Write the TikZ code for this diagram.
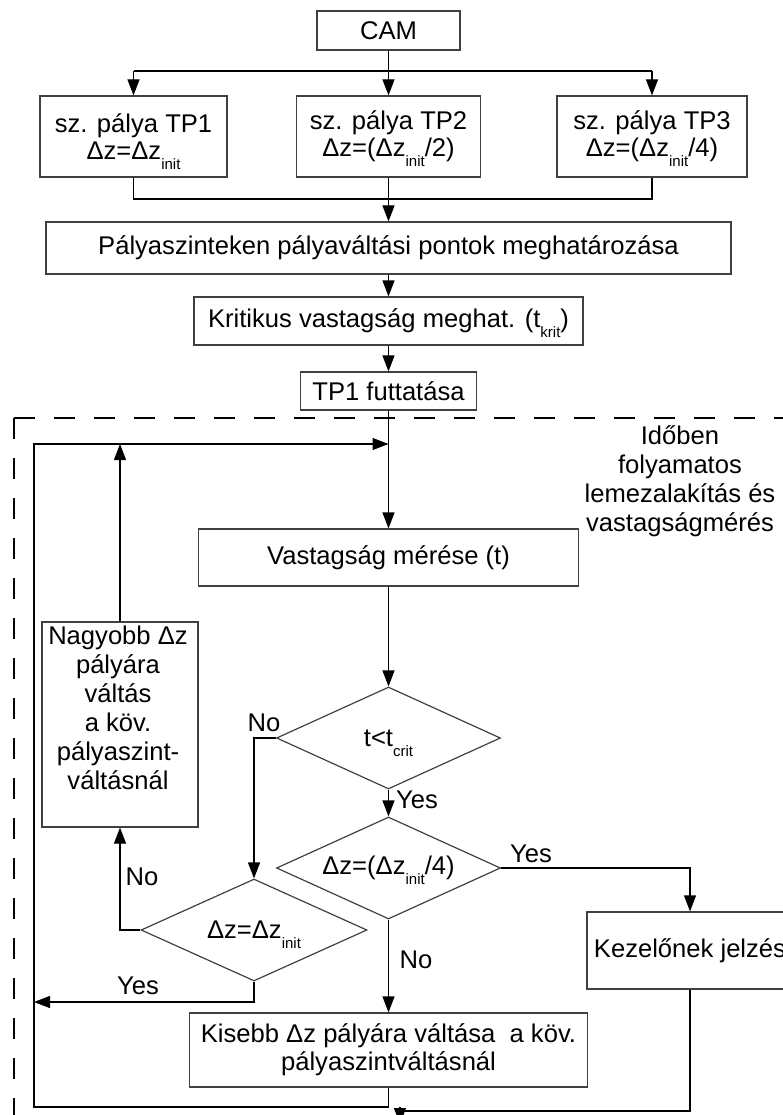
\documentclass[tikz,border=0pt]{standalone}
\usepackage{fontspec}
\setmainfont{Liberation Sans}
\usetikzlibrary{arrows.meta,shapes.geometric}
\newcommand\lowsub[1]{\raisebox{-10pt}[0pt][0pt]{\fontsize{15}{15}\selectfont #1}}
\begin{document}
\begin{tikzpicture}[x=1pt,y=-1pt,
  font=\fontsize{25.6}{29}\selectfont,
  box/.style={draw=black!75, line width=1.2pt, inner sep=0pt, align=center},
  dia/.style={diamond, draw=black!75, line width=1.2pt, inner sep=0pt, aspect=2.2, align=center},
  conn/.style={draw=black, line width=1.2pt},
  arr/.style={conn, -{Triangle[length=16pt,width=12pt]}},
  lbl/.style={inner sep=0pt},
  dashpat/.style={draw=black, line width=1.2pt, dash pattern=on 21pt off 19pt}]
\useasboundingbox (0,0) rectangle (783,1115);
% dashed frame
\draw[dashpat] (14,418) -- (14,1135);
\draw[dashpat] (14,418) -- (800,418);
% nodes
\node[box, minimum width=143pt, minimum height=39pt] (cam) at (388.5,30.5) {CAM};
\node[box, minimum width=187pt, minimum height=81pt, font=\fontsize{25.6}{27}\selectfont] (tp1) at (133.5,136.5) {sz. pálya TP1\\Δz=Δz\lowsub{init}};
\node[box, minimum width=184pt, minimum height=81pt, font=\fontsize{25.6}{27}\selectfont] (tp2) at (388.5,136.5) {sz. pálya TP2\\Δz=(Δz\lowsub{init}/2)};
\node[box, minimum width=190pt, minimum height=81pt, font=\fontsize{25.6}{27}\selectfont] (tp3) at (652,136.5) {sz. pálya TP3\\Δz=(Δz\lowsub{init}/4)};
\node[box, minimum width=685pt, minimum height=52pt] (main) at (388.5,248) {Pályaszinteken pályaváltási pontok meghatározása};
\node[box, minimum width=389pt, minimum height=48pt] (krit) at (388.5,321) {Kritikus vastagság meghat. (t\lowsub{krit})};
\node[box, minimum width=176pt, minimum height=38pt] (tpf) at (388.5,391) {TP1 futtatása};
\node[lbl, align=center] (ido) at (680,481) {Időben\\folyamatos\\lemezalakítás és\\vastagságmérés};
\node[box, minimum width=380pt, minimum height=57pt] (vast) at (388.5,557.5) {Vastagság mérése (t)};
\node[box, minimum width=156pt, minimum height=205pt] (nag) at (120,724.5) {};
\node[lbl, align=center] (nagtxt) at (118,708) {Nagyobb Δz\\pályára\\váltás\\a köv.\\pályaszint-\\váltásnál};
\node[dia, minimum width=224pt, minimum height=102pt] (d1) at (388.5,738) {t<t\lowsub{crit}};
\node[dia, minimum width=224pt, minimum height=102pt] (d2) at (388.5,868) {Δz=(Δz\lowsub{init}/4)};
\node[dia, minimum width=226pt, minimum height=102pt] (d3) at (254,930) {Δz=Δz\lowsub{init}};
\node[box, minimum width=206pt, minimum height=77pt] (kez) at (690,950.5) {Kezelőnek jelzés};
\node[box, minimum width=398pt, minimum height=74pt, font=\fontsize{25.6}{28}\selectfont] (kis) at (388.5,1050) {Kisebb Δz pályára váltása~ a köv.\\pályaszintváltásnál};
% labels
\node[lbl] (yes1) at (417,800) {Yes};
\node[lbl] (no1) at (264,723) {No};
\node[lbl] (no2) at (142,877) {No};
\node[lbl] (yes2) at (138,986) {Yes};
\node[lbl] (yes3) at (531,854) {Yes};
\node[lbl] (no3) at (416,960) {No};
% coordinates
\coordinate (br) at (388.5,71);
\coordinate (jn) at (388.5,199);
\coordinate (lpTop) at (34,444);
\coordinate (lpBot) at (34,1107);
\coordinate (jTop) at (388.5,444);
\coordinate (lpY) at (34,1002);
\coordinate (rb) at (400,1111);
\coordinate (ra) at (400,1107);
\coordinate (endc) at (400,1124);
% connectors
\draw[conn] (cam.south) -- (br);
\draw[conn] (tp1.north |- br) -- (tp3.north |- br);
\draw[arr] (tp1.north |- br) -- (tp1.north);
\draw[arr] (br) -- (tp2.north);
\draw[arr] (tp3.north |- br) -- (tp3.north);
\draw[conn] (tp1.south) -- (tp1.south |- jn) -- (tp3.south |- jn) -- (tp3.south);
\draw[conn] (tp2.south) -- (jn);
\draw[arr] (jn) -- (main.north);
\draw[arr] (main.south) -- (krit.north);
\draw[arr] (krit.south) -- (tpf.north);
\draw[arr] (tpf.south) -- (vast.north);
\draw[arr] (kis.south) -- (kis.south |- lpBot) -- (lpBot) -- (lpTop) -- (jTop);
\draw[arr] (vast.south) -- (d1.north);
\draw[arr] (d1.south) -- (d2.north);
\draw[arr] (d1.west) -| (d3.north);
\draw[arr] (d3.west) -| (nag.south);
\draw[arr] (nag.north) -- (nag.north |- lpTop);
\draw[arr] (d3.south) |- (lpY);
\draw[arr] (d2.east) -| (kez.north);
\draw[arr] (d2.south) -- (kis.north);
\draw[conn] (kez.south) |- (rb);
\draw[arr] (ra) -- (endc);
\end{tikzpicture}
\end{document}
